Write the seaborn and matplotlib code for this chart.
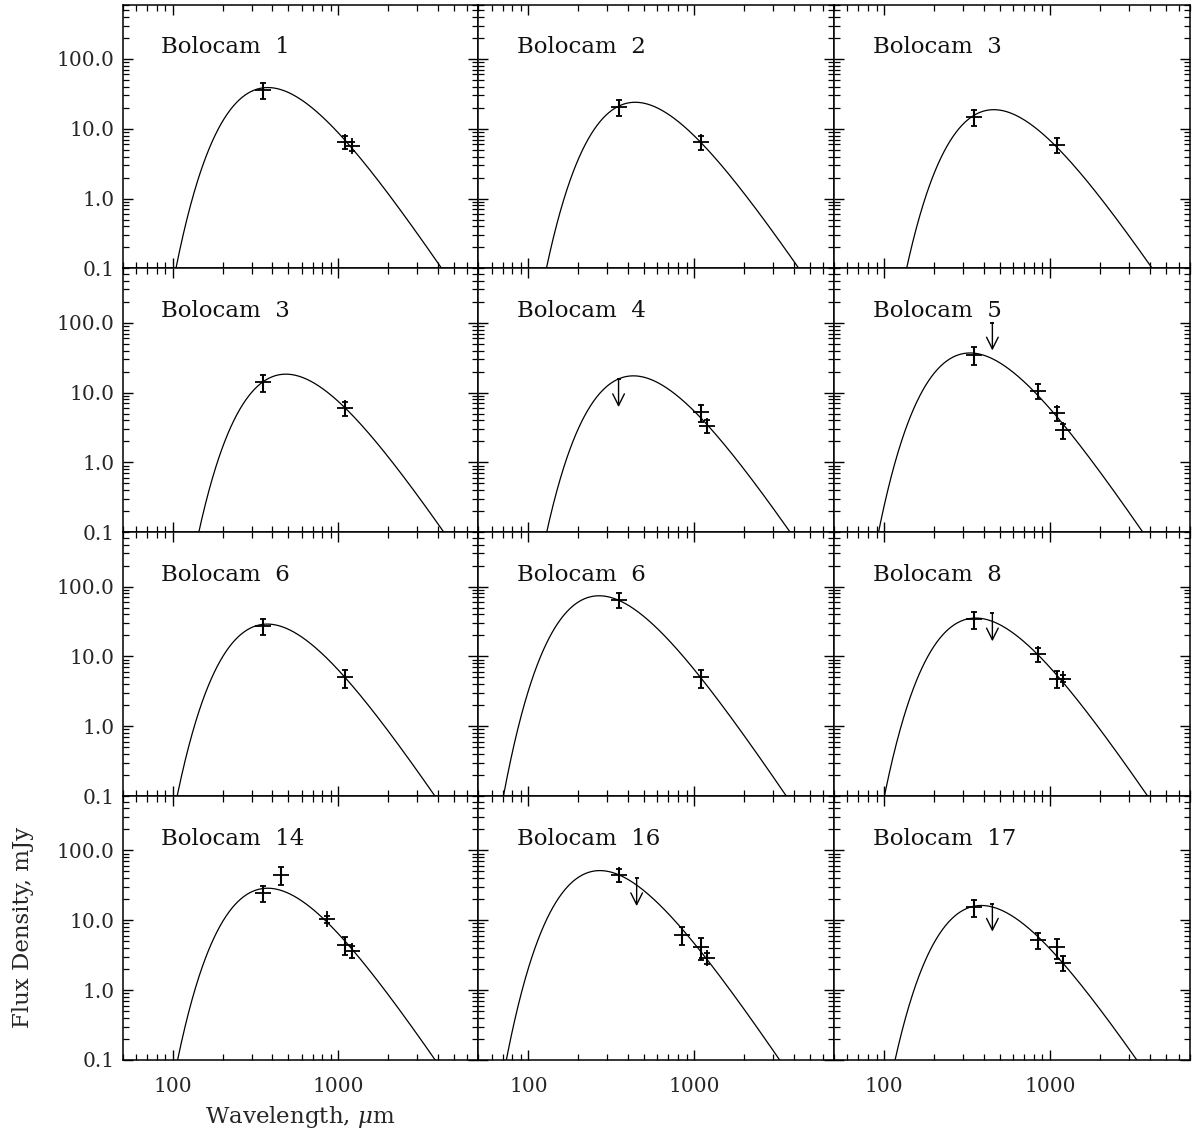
import numpy as np
import matplotlib
matplotlib.use("Agg")
import matplotlib.pyplot as plt
from matplotlib.ticker import LogLocator, FuncFormatter, NullFormatter, FixedLocator
import seaborn as sns

# ---------------- data ----------------
titles = ["Bolocam  1", "Bolocam  2", "Bolocam  3",
          "Bolocam  3", "Bolocam  4", "Bolocam  5",
          "Bolocam  6", "Bolocam  6", "Bolocam  8",
          "Bolocam  14", "Bolocam  16", "Bolocam  17"]

# detections: wavelength (micron), flux density (mJy), 1-sigma error (mJy)
det_wl = [
    [350, 1100, 1200],
    [350, 1100],
    [350, 1100],
    [350, 1100],
    [1100, 1200],
    [350, 850, 1100, 1200],
    [350, 1100],
    [350, 1100],
    [350, 850, 1100, 1200],
    [350, 450, 850, 1100, 1200],
    [350, 850, 1100, 1200],
    [350, 850, 1100, 1200],
]
det_flux = [
    [36.5, 6.5, 5.6],
    [20.5, 6.4],
    [14.8, 5.9],
    [14.0, 6.0],
    [5.2, 3.3],
    [34.8, 10.7, 5.1, 2.9],
    [27.6, 5.0],
    [64.3, 5.0],
    [34.3, 10.8, 4.8, 4.8],
    [24.5, 44.9, 10.4, 4.5, 3.6],
    [44.7, 6.2, 4.1, 2.9],
    [15.4, 5.2, 4.1, 2.45],
]
det_err = [
    [9.4, 1.4, 0.8],
    [5.2, 1.4],
    [3.8, 1.4],
    [3.7, 1.4],
    [1.35, 0.7],
    [9.6, 2.5, 1.2, 0.7],
    [7.0, 1.45],
    [15.6, 1.5],
    [9.6, 2.4, 1.3, 0.55],
    [6.0, 12.7, 1.3, 1.3, 0.7],
    [9.0, 1.8, 1.4, 0.5],
    [4.1, 1.3, 1.35, 0.6],
]
# upper limits
ul_wl = [[], [], [], [], [350], [450], [], [], [450], [], [450], [450]]
ul_flux = [[], [], [], [], [15.6], [101.0], [], [], [41.4], [], [40.1], [17.3]]

# greybody fit of each panel: wavelength of peak (micron), peak flux (mJy)
peak_wl = [375, 441, 459, 482, 430, 330, 372, 267, 357, 374, 270, 386]
peak_flux = [39.0, 24.0, 18.8, 18.4, 17.4, 37.0, 29.1, 74.0, 35.5, 28.8, 51.5, 16.3]
beta = 1.65

x_ticks = [100, 1000]
y_ticks = [0.1, 1.0, 10.0, 100.0]
XLIM = (50, 7000)
YLIM = (0.1, 600)
ARROW_DECADES = 0.4


def greybody(lam, lam_p, s_p, b):
    xp = 4.0
    for _ in range(60):
        xp = (3.0 + b) * (1.0 - np.exp(-xp))
    x = xp * lam_p / lam
    return s_p * (x / xp) ** (3.0 + b) * np.expm1(xp) / np.expm1(x)


# ---------------- figure ----------------
sns.set_style("white")
plt.rcParams["font.family"] = ["DejaVu Serif"]
plt.rcParams["mathtext.fontset"] = "dejavuserif"

fig, axes = plt.subplots(4, 3, figsize=(11.94, 11.34), dpi=100)
fig.subplots_adjust(left=0.1028, right=0.9966, top=0.9959, bottom=0.0653,
                    wspace=0, hspace=0)

lam_grid = np.logspace(np.log10(XLIM[0]), np.log10(XLIM[1]), 600)

for i, ax in enumerate(axes.flat):
    row, col = divmod(i, 3)
    ax.set_xscale("log")
    ax.set_yscale("log")

    model = greybody(lam_grid, peak_wl[i], peak_flux[i], beta)
    sns.lineplot(x=lam_grid, y=model, ax=ax, color="black", linewidth=0.9,
                 estimator=None, sort=False)

    # detections: plus symbol + vertical error bar
    ax.errorbar(det_wl[i], det_flux[i], yerr=det_err[i], fmt="+", color="black",
                ms=11, mew=1.3, ecolor="black", elinewidth=1.5,
                capsize=2.5, capthick=1.3)

    # upper limits
    for wl, fl in zip(ul_wl[i], ul_flux[i]):
        ax.annotate("", xy=(wl, fl / 10 ** ARROW_DECADES), xytext=(wl, fl),
                    arrowprops=dict(arrowstyle="->,head_length=0.6,head_width=0.3",
                                    color="black", lw=1.0, shrinkA=0, shrinkB=0,
                                    mutation_scale=14))
        ax.plot([wl], [fl], marker="_", ms=3.5, mew=1.3, color="black")

    ax.set_xlim(*XLIM)
    ax.set_ylim(*YLIM)
    ax.xaxis.set_major_locator(FixedLocator(x_ticks))
    ax.yaxis.set_major_locator(FixedLocator(y_ticks))
    ax.xaxis.set_minor_locator(LogLocator(base=10, subs=np.arange(2, 10), numticks=30))
    ax.yaxis.set_minor_locator(LogLocator(base=10, subs=np.arange(2, 10), numticks=30))
    ax.xaxis.set_major_formatter(FuncFormatter(lambda v, p: f"{v:.0f}"))
    ax.yaxis.set_major_formatter(FuncFormatter(lambda v, p: f"{v:.1f}"))
    ax.xaxis.set_minor_formatter(NullFormatter())
    ax.yaxis.set_minor_formatter(NullFormatter())

    ax.tick_params(which="both", direction="in", top=True, right=True,
                   bottom=True, left=True, color="black")
    ax.tick_params(which="major", length=7, width=1.0, labelsize=14.5)
    ax.tick_params(which="minor", length=4, width=0.9)
    ax.tick_params(axis="y", which="major", pad=6)
    ax.tick_params(axis="x", which="major", pad=12)
    ax.tick_params(labelleft=(col == 0), labelbottom=(row == 3))
    for sp in ax.spines.values():
        sp.set_linewidth(1.1)
        sp.set_color("black")
    ax.set_xlabel("")
    ax.set_ylabel("")

    ax.text(0.108, 0.816, titles[i], transform=ax.transAxes, fontsize=16.5,
            ha="left", va="baseline", color="#111111")

fig.text(300 / 1194, 1 - 1122.7 / 1134, r"Wavelength, $\mu$m", fontsize=16.5,
         ha="center", va="baseline")
fig.text(23 / 1194, 1 - 927.7 / 1134, "Flux Density, mJy", fontsize=16.5,
         ha="center", va="center", rotation=90)

fig.savefig("out.png", dpi=100)
